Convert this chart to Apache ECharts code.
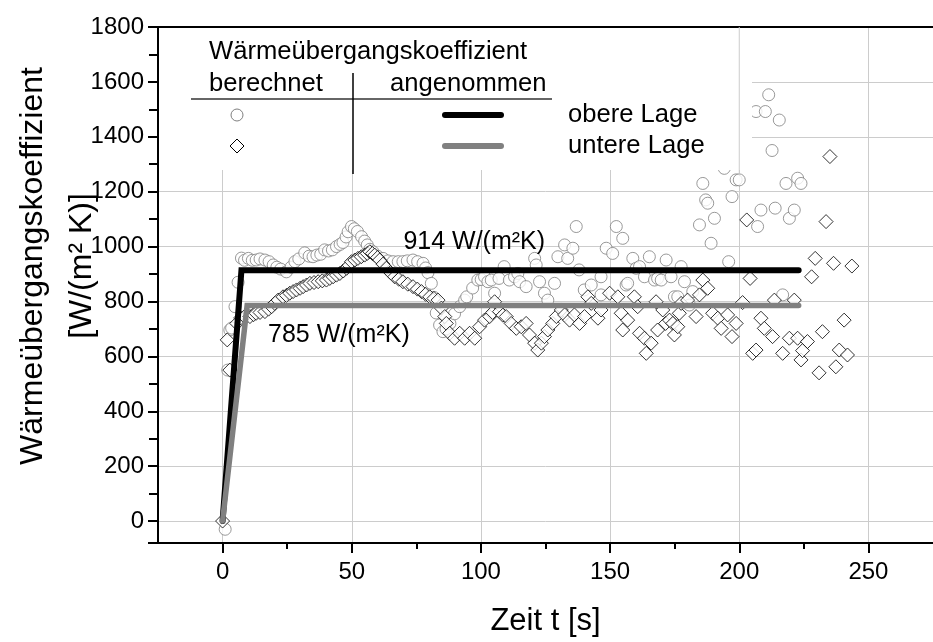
<!DOCTYPE html>
<html>
<head>
<meta charset="utf-8">
<script src="https://cdn.jsdelivr.net/npm/echarts@6/dist/echarts.min.js"></script>
<style>
  html, body { margin: 0; padding: 0; background: #fff; }
  #chart { width: 933px; height: 642px; }
</style>
</head>
<body>
<div id="chart"></div>
<script>
// Wärmeübergangskoeffizient über der Zeit: berechnete Werte (Punkte) und angenommene Verläufe (Linien)

// berechnet, obere Lage  [t in s, alpha in W/(m²K)]
const obereBerechnet = [
  [1, -30], [2, 550], [2.8, 696], [3.5, 703], [4.8, 781], [6, 870], [7.3, 958], [8.5, 950],
  [10, 957], [11.5, 950], [13, 951], [14.5, 955], [16.4, 951], [18, 945], [19.6, 933], [21, 925],
  [22.5, 918], [24.7, 908], [26.5, 925], [28, 945], [29.5, 955], [31.8, 977], [33.5, 965], [35, 963],
  [36.5, 969], [38, 972], [39.5, 988], [41, 984], [42.5, 988], [44.1, 1000], [45.5, 1008], [46.6, 1015],
  [47.8, 1035], [48.6, 1054], [49.9, 1073], [51, 1065], [52.2, 1055], [53.8, 1036], [55, 1020], [56, 1006],
  [57, 990], [58.2, 981], [60, 965], [62.1, 957], [64, 948], [66, 945], [68, 945], [69.8, 945],
  [71.5, 948], [73.7, 951], [75.5, 945], [77.6, 939], [78.6, 922], [79.5, 905], [80.8, 866], [81.8, 815],
  [82.7, 758], [84, 714], [85.3, 690], [86.5, 700], [88, 720], [89.8, 755], [91.8, 781], [93.7, 805],
  [94.5, 817], [96.8, 849], [98.8, 878], [100.1, 880], [101.4, 890], [102.7, 872], [104, 878], [105.3, 830],
  [107, 884], [109, 927], [111, 878], [113, 890], [114.3, 902], [115, 872], [117.5, 854], [120.8, 957],
  [121.4, 933], [122.7, 872], [124.6, 830], [125.9, 805], [128.5, 866], [129.8, 963], [132.4, 1006], [133.6, 957],
  [135.6, 994], [136.9, 1073], [138, 915], [140, 842], [142.7, 860], [146.5, 890], [146.5, 824], [148.5, 994],
  [151, 975], [152.4, 1073], [154.9, 1030], [156.2, 860], [156.8, 866], [158.8, 957], [160.1, 921], [161.4, 927],
  [163.3, 890], [165.2, 963], [167.2, 878], [168.4, 884], [169.8, 878], [171.7, 951], [173.6, 890], [174.9, 817],
  [176.2, 817], [177.5, 927], [178.8, 872], [180.7, 787], [182, 836], [184.6, 1079], [185.9, 1230], [187, 1170],
  [187.8, 1158], [189.1, 1012], [190.4, 1103], [194.2, 1285], [195.9, 945], [197.2, 1182], [198.8, 1243], [200, 1243],
  [206.5, 1492], [207.1, 1073], [208.4, 1133], [210.1, 1492], [211.4, 1553], [212.7, 1350], [213.9, 1140], [215.5, 1461],
  [216.8, 824], [218.1, 1230], [219.4, 1103], [221.3, 1133], [222.6, 1249], [223.9, 1230]
];

// berechnet, untere Lage
const untereBerechnet = [
  [0, 0], [1.8, 660], [2.8, 550], [5.5, 720], [7, 740], [8.5, 745], [10.6, 745], [12, 752],
  [13, 757], [14.5, 760], [16.4, 763], [17.8, 772], [19, 781], [20.2, 793], [21.5, 805], [23.4, 817],
  [24.7, 822], [26, 830], [27.3, 836], [28.6, 842], [30, 848], [31.2, 854], [32.5, 860], [33.8, 866],
  [35.4, 869], [37, 872], [38.6, 875], [40.2, 878], [41.5, 884], [42.8, 890], [44.1, 896], [45.4, 902],
  [46.7, 911], [48, 921], [49, 932], [49.9, 945], [51.2, 951], [52.4, 957], [53.7, 963], [55, 969],
  [56, 975], [57, 981], [58, 975], [58.9, 969], [60, 960], [60.8, 951], [62.1, 936], [63.4, 921],
  [65, 905], [66.6, 890], [68.2, 881], [69.8, 872], [71.7, 863], [73.7, 854], [75.4, 845], [77, 836],
  [78.6, 826], [80.2, 817], [81.8, 811], [83.4, 805], [84.7, 776], [86, 745], [86.6, 720], [87.9, 684],
  [89.8, 666], [91.8, 684], [93.7, 666], [95.6, 684], [97.6, 666], [99.5, 708], [101.4, 732], [103.4, 745],
  [104.5, 760], [105.3, 799], [107.2, 763], [108.5, 750], [109.8, 745], [111.7, 720], [113.7, 702], [115.6, 708],
  [117.5, 720], [118.8, 678], [120.8, 648], [122, 623], [123.4, 648], [124.6, 672], [125.9, 696], [127.8, 720],
  [129.2, 745], [131.1, 769], [132.4, 751], [134.3, 732], [136.2, 751], [138.2, 720], [140.1, 745], [141.4, 817],
  [142.7, 793], [145.3, 739], [146.5, 769], [149.8, 830], [153, 817], [154.3, 757], [154.9, 696], [156.8, 732],
  [159.4, 817], [160.7, 781], [161.4, 684], [163.3, 666], [164, 611], [165.9, 648], [167.8, 799], [168.4, 696],
  [170.4, 769], [171.5, 720], [173, 732], [174.3, 720], [174.9, 678], [176.2, 708], [176.8, 757], [177.5, 793],
  [180, 805], [183.3, 745], [184.6, 824], [185.9, 878], [187.8, 848], [189.7, 757], [191.7, 739], [193, 702],
  [195.5, 751], [197.2, 672], [198.8, 720], [201.3, 796], [202.9, 1097], [204.2, 884], [205.2, 611], [206.5, 623],
  [208.4, 739], [209.7, 702], [212.9, 672], [213.6, 805], [216.8, 611], [219.4, 666], [221.3, 805], [222.6, 666],
  [223.9, 587], [224.5, 621], [226.4, 654], [228, 890], [229.4, 957], [230.9, 540], [232.2, 690], [233.6, 1091],
  [235.1, 1328], [236.5, 939], [237.4, 562], [238.7, 623], [240.6, 732], [241.9, 605], [243.6, 929]
];

// angenommene Verläufe
const obereAngenommenWert = 914;
const untereAngenommenWert = 785;
const obereAngenommen = [[0, 0], [7.3, obereAngenommenWert], [223, obereAngenommenWert]];
const untereAngenommen = [[0, 0], [9.5, untereAngenommenWert], [223, untereAngenommenWert]];

// Achsen und Teilstriche
const zeitMin = -25, zeitMax = 275;
const alphaMin = -80, alphaMax = 1800;
const zeitHauptstriche = [-25, 0, 50, 100, 150, 200, 250, 275];
const zeitNebenstriche = [25, 75, 125, 175, 225];

const FONT = 'Arial, "Liberation Sans", sans-serif';
const chart = echarts.init(document.getElementById('chart'), null, { renderer: 'canvas' });

const axisBlack = { show: true, onZero: false, lineStyle: { color: '#000', width: 2 } };

chart.setOption({
  backgroundColor: '#fff',
  animation: false,
  grid: { left: 158, right: 0, top: 27, bottom: 99, containLabel: false },
  xAxis: [{
    type: 'value', min: zeitMin, max: zeitMax, splitNumber: 6,
    axisLine: axisBlack,
    axisTick: { show: true, inside: false, length: 10, customValues: zeitHauptstriche,
      lineStyle: { color: '#000', width: 2 } },
    axisLabel: { fontFamily: FONT, fontSize: 24, color: '#000', margin: 17, showMinLabel: false, showMaxLabel: false },
    splitLine: { show: true, lineStyle: { color: '#cccccc', width: 1 } },
    name: 'Zeit t [s]', nameLocation: 'middle', nameGap: 63,
    nameTextStyle: { fontFamily: FONT, fontSize: 31, color: '#000' }
  }, {
    type: 'value', position: 'top', min: zeitMin, max: zeitMax,
    axisLine: axisBlack, axisTick: { show: false }, axisLabel: { show: false }, splitLine: { show: false }
  }, {
    type: 'value', position: 'bottom', offset: 0, min: zeitMin, max: zeitMax,
    axisLine: { show: false, onZero: false },
    axisTick: { show: true, inside: false, length: 6, customValues: zeitNebenstriche,
      lineStyle: { color: '#000', width: 2 } },
    axisLabel: { show: false }, splitLine: { show: false }
  }],
  yAxis: {
    type: 'value', min: alphaMin, max: alphaMax, splitNumber: 9,
    axisLine: axisBlack,
    axisTick: { show: true, inside: false, length: 10, lineStyle: { color: '#000', width: 2 } },
    minorTick: { show: true, splitNumber: 2, length: 9, lineStyle: { color: '#000', width: 2 } },
    axisLabel: {
      fontFamily: FONT, fontSize: 24, color: '#000', margin: 14, showMinLabel: false,
      formatter: v => (v % 200 === 0 ? String(v) : '')
    },
    splitLine: { show: true, lineStyle: { color: '#cccccc', width: 1 } }
  },
  series: [
    {
      name: 'obere Lage berechnet', type: 'scatter', data: obereBerechnet,
      symbol: 'circle', symbolSize: 12, z: 3,
      itemStyle: { color: '#ffffff', borderColor: '#7f7f7f', borderWidth: 1 }
    },
    {
      name: 'untere Lage berechnet', type: 'scatter', data: untereBerechnet,
      symbol: 'diamond', symbolSize: 14, z: 4,
      itemStyle: { color: '#ffffff', borderColor: '#000000', borderWidth: 1 }
    },
    {
      name: 'obere Lage angenommen', type: 'line', data: obereAngenommen,
      showSymbol: false, z: 5, lineStyle: { color: '#000000', width: 6, join: 'miter', cap: 'round' }
    },
    {
      name: 'untere Lage angenommen', type: 'line', data: untereAngenommen,
      showSymbol: false, z: 6, lineStyle: { color: '#808080', width: 5.5, join: 'miter', cap: 'round' }
    }
  ]
});

// Beschriftungen der angenommenen Werte und Legendentabelle
function px(x, y) { return chart.convertToPixel({ xAxisIndex: 0, yAxisIndex: 0 }, [x, y]); }

const pObere = px(70, obereAngenommenWert);
const pUntere = px(17.6, untereAngenommenWert);
const pGrid200Top = px(200, alphaMax);
const pGrid200Bottom = px(200, 1260);

const txt = (x, y, text, size) => ({
  type: 'text', x, y, z: 60,
  style: { text, font: size + 'px ' + FONT, fill: '#000', align: 'left', verticalAlign: 'middle' }
});

const LEG = '#333';
chart.setOption({
  graphic: [
    txt(pObere[0], pObere[1] - 28, obereAngenommenWert + ' W/(m²K)', 25),
    txt(pUntere[0], pUntere[1] + 30, untereAngenommenWert + ' W/(m²K)', 25),

    // Legende (weißer Hintergrund)
    { type: 'rect', z: 50, shape: { x: 159, y: 28, width: 593, height: 142 }, style: { fill: '#ffffff' } },
    { type: 'line', z: 51, shape: { x1: pGrid200Top[0], y1: pGrid200Top[1], x2: pGrid200Bottom[0], y2: pGrid200Bottom[1] },
      style: { stroke: '#cccccc', lineWidth: 1 } },
    txt(209, 52, 'Wärmeübergangskoeffizient', 25.6),
    txt(209, 84, 'berechnet', 25.6),
    txt(390, 84, 'angenommen', 25.6),
    { type: 'line', z: 60, shape: { x1: 191, y1: 99, x2: 552, y2: 99 }, style: { stroke: LEG, lineWidth: 1.5 } },
    { type: 'line', z: 60, shape: { x1: 353, y1: 73, x2: 353, y2: 174 }, style: { stroke: '#000', lineWidth: 1.5 } },
    { type: 'circle', z: 60, shape: { cx: 237, cy: 115, r: 6 }, style: { fill: '#fff', stroke: '#7f7f7f', lineWidth: 1 } },
    { type: 'polygon', z: 60, shape: { points: [[237, 139], [244, 146], [237, 153], [230, 146]] },
      style: { fill: '#fff', stroke: '#000', lineWidth: 1 } },
    { type: 'line', z: 60, shape: { x1: 445, y1: 115, x2: 501, y2: 115 },
      style: { stroke: '#000', lineWidth: 6, lineCap: 'round' } },
    { type: 'line', z: 60, shape: { x1: 445, y1: 146, x2: 501, y2: 146 },
      style: { stroke: '#808080', lineWidth: 6, lineCap: 'round' } },
    txt(568, 115, 'obere Lage', 25.6),
    txt(568, 146, 'untere Lage', 25.6),

    // Achsentitel y
    { type: 'text', z: 60, x: 33, y: 266, rotation: Math.PI / 2,
      style: { text: 'Wärmeübergangskoeffizient', font: '32px ' + FONT, fill: '#000', align: 'center', verticalAlign: 'middle' } },
    { type: 'text', z: 60, x: 82, y: 266, rotation: Math.PI / 2,
      style: { text: '[W/(m² K)]', font: '32px ' + FONT, fill: '#000', align: 'center', verticalAlign: 'middle' } }
  ]
});
</script>
</body>
</html>
